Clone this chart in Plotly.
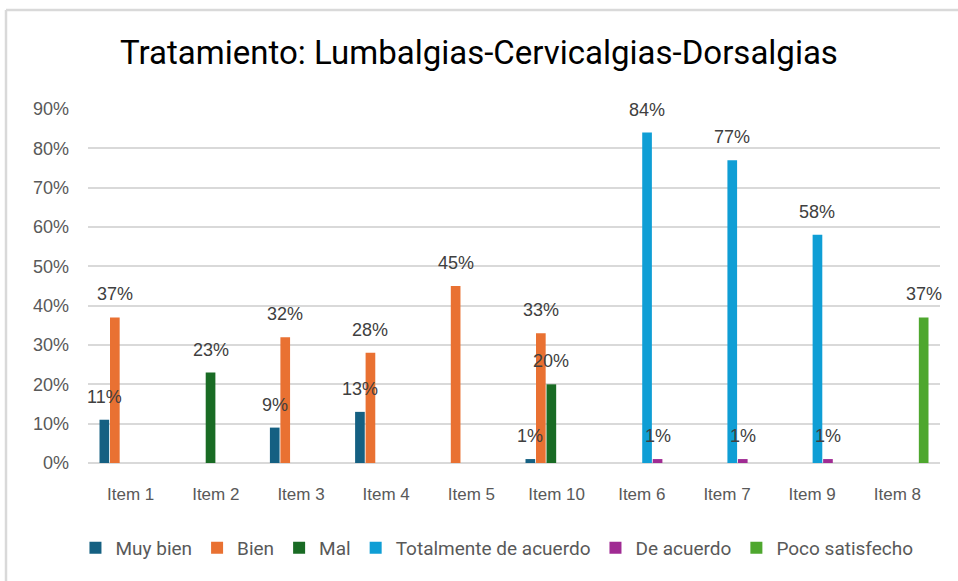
import plotly.graph_objects as go

# data =======================================
items = ["Item 1", "Item 2", "Item 3", "Item 4", "Item 5",
         "Item 10", "Item 6", "Item 7", "Item 9", "Item 8"]

muy_bien = [0.11, None, 0.09, 0.13, None, 0.01, None, None, None, None]
bien = [0.37, None, 0.32, 0.28, 0.45, 0.33, None, None, None, None]
mal = [None, 0.23, None, None, None, 0.20, None, None, None, None]
totalmente = [None, None, None, None, None, None, 0.84, 0.77, 0.58, None]
de_acuerdo = [None, None, None, None, None, None, 0.01, 0.01, 0.01, None]
poco = [None, None, None, None, None, None, None, None, None, 0.37]

y_ticks = [0, 0.1, 0.2, 0.3, 0.4, 0.5, 0.6, 0.7, 0.8, 0.9]

series = [
    ("Muy bien", muy_bien, "#156082"),
    ("Bien", bien, "#E97132"),
    ("Mal", mal, "#196B24"),
    ("Totalmente de acuerdo", totalmente, "#0F9ED5"),
    ("De acuerdo", de_acuerdo, "#A02B93"),
    ("Poco satisfecho", poco, "#4EA72E"),
]

W, H = 958, 581
L, R, T, B = 88, 18, 109, 118
ph = H - T - B
pw = W - L - R
bargap = 0.26

fig = go.Figure()
for name, vals, col in series:
    fig.add_trace(go.Bar(
        x=items, y=vals, name=name,
        marker=dict(color=col, line=dict(width=0)),
    ))

# data labels, lifted above the bar tops like Excel does
slot = pw / len(items) * (1 - bargap) / len(series)
for i, (name, vals, col) in enumerate(series):
    for it, v in zip(items, vals):
        if v is None:
            continue
        fig.add_annotation(
            x=it, y=v, text=f"{v:.0%}", showarrow=False,
            xshift=(i - (len(series) - 1) / 2) * slot, yshift=23,
            yanchor="middle",
            font=dict(family="Liberation Sans, Arial", size=18, color="#404040"),
        )

fig.update_layout(
    width=W, height=H,
    paper_bgcolor="white", plot_bgcolor="white",
    barmode="group", bargap=bargap, bargroupgap=0.08,
    margin=dict(l=L, r=R, t=T, b=B, autoexpand=False),
    title=dict(text="Tratamiento: Lumbalgias-Cervicalgias-Dorsalgias",
               x=0.5, xanchor="center", y=1 - 52 / H, yanchor="middle",
               font=dict(family="Roboto", size=33, color="#000000")),
    xaxis=dict(showline=False, ticks="", showgrid=False, ticklabelstandoff=19,
               automargin=False, range=[-0.5, len(items) - 0.5],
               tickfont=dict(family="Liberation Sans, Arial", size=17, color="#595959")),
    yaxis=dict(range=[0, 0.9], tickvals=y_ticks, tickformat=".0%",
               showgrid=True, gridcolor="#D9D9D9", gridwidth=2,
               zeroline=True, zerolinecolor="#D9D9D9", zerolinewidth=2,
               ticks="", ticklabelstandoff=18, automargin=False,
               tickfont=dict(family="Liberation Sans, Arial", size=18, color="#595959")),
    legend=dict(orientation="h", x=0.48, xanchor="center",
                y=-(548 - (H - B)) / ph, yanchor="middle",
                font=dict(family="Roboto", size=19, color="#595959"),
                itemwidth=30, tracegroupgap=0),
    showlegend=True,
)

# chart frame (only top and left edges are visible in the picture)
fig.add_shape(type="line", xref="paper", yref="paper",
              x0=(6 - L) / pw, x1=(W - L) / pw, y0=(H - B - 10) / ph, y1=(H - B - 10) / ph,
              line=dict(color="#D9D9D9", width=2.5), layer="below")
fig.add_shape(type="line", xref="paper", yref="paper",
              x0=(6 - L) / pw, x1=(6 - L) / pw, y0=(H - B - 10) / ph, y1=-B / ph,
              line=dict(color="#D9D9D9", width=2.5), layer="below")

fig.write_html("out.html", config={"displayModeBar": False},
               post_script="document.body.style.margin='0';")
